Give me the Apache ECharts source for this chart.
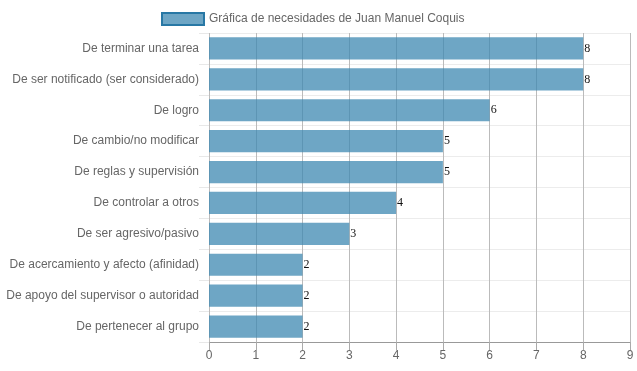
<!DOCTYPE html>
<html><head><meta charset="utf-8">
<script src="https://cdn.jsdelivr.net/npm/echarts@6/dist/echarts.min.js"></script>
<style>html,body{margin:0;padding:0;background:#fff}#c{width:637px;height:371px}</style>
</head><body><div id="c"></div>
<script>
const categories = ["De terminar una tarea","De ser notificado (ser considerado)","De logro","De cambio/no modificar","De reglas y supervisión","De controlar a otros","De ser agresivo/pasivo","De acercamiento y afecto (afinidad)","De apoyo del supervisor o autoridad","De pertenecer al grupo"];
const values = [8,8,6,5,5,4,3,2,2,2];
const seriesName = "Gráfica de necesidades de Juan Manuel Coquis";
const chart = echarts.init(document.getElementById('c'));
chart.setOption({
  animation:false,
  textStyle:{fontFamily:'Liberation Sans, Arial, sans-serif'},
  legend:{left:156,top:7,itemWidth:42,itemHeight:12,itemGap:10,
    textStyle:{color:'#666',fontSize:12,fontFamily:'Liberation Sans, Arial, sans-serif'},
    data:[{name:seriesName,icon:'rect',itemStyle:{color:'rgba(62,136,178,0.75)',borderColor:'rgba(40,120,165,1)',borderWidth:2}}]},
  grid:{left:209,right:7,top:33,bottom:29,containLabel:false},
  xAxis:{type:'value',min:0,max:9,interval:1,
    axisLine:{show:true,lineStyle:{color:'#999'}},
    axisTick:{show:true,length:8,lineStyle:{color:'#aaa'}},
    axisLabel:{color:'#666',fontSize:12,margin:8},
    splitLine:{show:true,lineStyle:{color:'#bbb'}}},
  yAxis:{type:'category',data:categories,inverse:true,
    axisLine:{show:false},
    axisTick:{show:true,length:10,interval:0,lineStyle:{color:'#e8e8e8'}},
    axisLabel:{color:'#666',fontSize:12,margin:10,interval:0},
    splitLine:{show:true,interval:0,lineStyle:{color:'#ececec'}}},
  series:[{name:seriesName,type:'bar',data:values,barCategoryGap:'28%',
    itemStyle:{color:'rgba(62,136,178,0.75)'},
    label:{show:true,position:'right',distance:1,color:'#111',fontSize:12,fontFamily:'Liberation Serif, Times New Roman, serif'}}]
});
</script></body></html>
